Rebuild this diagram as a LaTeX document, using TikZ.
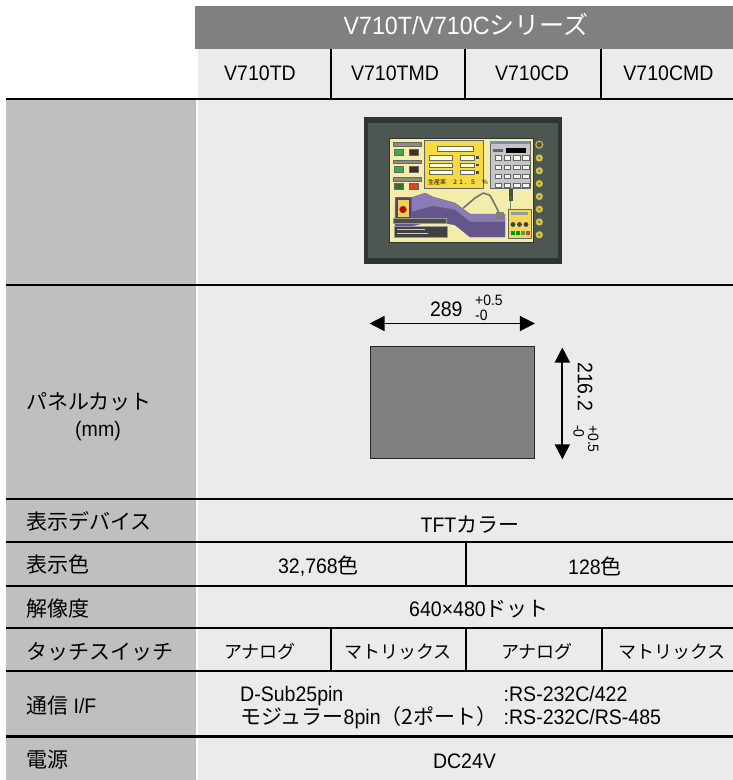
\documentclass[tikz,border=0pt]{standalone}
\usepackage{fontspec}
\setmainfont[FakeStretch=0.93]{Liberation Sans}
\newfontfamily\jpfont{Noto Sans CJK JP}
\usepackage{tikz}
\usetikzlibrary{positioning,arrows.meta,calc}
\colorlet{HEADCOLOR}{black!50}
\colorlet{LABELCOLOR}{black!25}
\colorlet{CELLCOLOR}{black!8}
\colorlet{CUTCOLOR}{black!50}
\definecolor{FRAMECOLOR}{HTML}{303433}
\definecolor{BEZELCOLOR}{HTML}{4D5752}
\definecolor{SCREENCOLOR}{HTML}{F4ECAA}
\definecolor{PANELCOLOR}{HTML}{F6DA3E}
\definecolor{KEYPADCOLOR}{HTML}{C6C6C6}
\definecolor{TITLECOLOR}{HTML}{6F8FCF}
\definecolor{BELTCOLOR}{HTML}{8B7CB8}
\definecolor{BELTSIDECOLOR}{HTML}{64558F}
\definecolor{LAMPCOLOR}{HTML}{D9C33C}
\definecolor{BARCOLOR}{HTML}{8F8C7E}
\definecolor{BTNGREEN}{HTML}{3DAA4B}
\definecolor{BTNDARK}{HTML}{4A2A26}
\definecolor{BTNDEEP}{HTML}{2F6E3A}
\definecolor{BTNRED}{HTML}{E04030}
\definecolor{BOXCOLOR}{HTML}{F0D860}
\tikzset{
  cell-style/.style = {fill=#1, draw=none},
  rule-style/.style = {line width=2.3pt, draw=black},
  split-style/.style = {line width=2pt, draw=black},
  label-style/.style = {
    anchor=west, inner sep=0pt,
    font=\fontsize{21}{25}\selectfont
  },
  value-style/.style = {inner sep=0pt, font=\fontsize{21}{25}\selectfont},
  touch-style/.style = {inner sep=0pt, font=\fontsize{18}{22}\selectfont},
  model-style/.style = {anchor=base, inner sep=0pt, font=\fontsize{21}{25}\selectfont},
  head-style/.style = {
    anchor=base, inner sep=0pt, text=white,
    font=\fontsize{25}{30}\selectfont
  },
  cut-style/.style = {
    draw=black!85, line width=1.3pt, fill=CUTCOLOR,
    minimum width=164pt, minimum height=112.5pt, inner sep=0pt
  },
  dim-style/.style = {
    draw, line width=1.8pt,
    {Triangle[length=15pt,width=15pt]}-{Triangle[length=15pt,width=15pt]}
  },
  size-style/.style = {inner sep=0pt, font=\fontsize{21}{25}\selectfont},
  tol-style/.style = {anchor=base west, inner sep=0pt, font=\fontsize{15}{18}\selectfont},
  tiny-style/.style = {draw=black!60, line width=0.3pt}
}
\newcommand\jp[1]{{\jpfont #1}}
\def\createLabel name:#1 at:#2 text:#3;{
  \node [label-style] (#1) at (26,#2) {#3};
}
\def\createRule at:#1;{
  \draw [rule-style] (6,#1) -- (733,#1);
}

\begin{document}
\begin{tikzpicture}[x=1pt,y=-1pt]
  \useasboundingbox (0,0) rectangle (733,780);
  \fill[white] (0,0) rectangle (733,780);

  % table cells
  \fill[cell-style=HEADCOLOR] (195,6) rectangle (733,48.5);
  \fill[cell-style=CELLCOLOR] (197.5,48.5) rectangle (733,780);
  \fill[cell-style=LABELCOLOR] (6,98) rectangle (196,780);

  \createRule at:98.8;
  \createRule at:284.8;
  \createRule at:499.3;
  \createRule at:542.3;
  \createRule at:585.8;
  \createRule at:627.7;
  \createRule at:671;
  \createRule at:736.5;

  \foreach \x in {330.5,464.5,600.5}
    \draw[split-style] (\x,48.5) -- (\x,98);
  \draw[split-style] (465.5,542.3) -- (465.5,585.8);
  \foreach \x in {331,466,601.5}
    \draw[split-style] (\x,627.7) -- (\x,671);

  % header
  \node[head-style] (series) at (466,34) {V710T/V710C\jp{シリーズ}};
  \node[model-style] (td) at (260,80) {V710TD};
  \node[model-style] (tmd) at (395,80) {V710TMD};
  \node[model-style] (cd) at (532,80) {V710CD};
  \node[model-style] (cmd) at (668.5,80) {V710CMD};

  % HMI photo
  \fill[FRAMECOLOR] (363.5,116.5) rectangle (562,264);
  \fill[BEZELCOLOR] (368,123) rectangle (557.5,257.5);
  \fill[black!80] (389,138) rectangle (534,242.5);
  \fill[SCREENCOLOR] (390,139) rectangle (533,241.5);
  \fill[green!50!black] (411,252.5) rectangle (417,253.5);
  \draw[LAMPCOLOR, line width=1pt] (539.3,144.7) circle (3.5);
  \foreach \k in {0,...,6} {
    \fill[LAMPCOLOR] (539.3,{158+12.8*\k}) circle (3.6);
    \fill[black!55] (539.3,{158+12.8*\k}) circle (1.4);
  }
  \foreach \y/\cl/\cr in {142.3/BTNGREEN/BTNDARK, 159.7/BTNGREEN/BTNDARK, 177/BTNDEEP/BTNRED} {
    \filldraw[tiny-style, fill=BARCOLOR] (393,\y) rectangle (421,\y+3.8);
    \filldraw[tiny-style, fill=\cl] (394,\y+6.5) rectangle (403.5,\y+12.5);
    \filldraw[tiny-style, fill=\cr] (409,\y+6.5) rectangle (418.5,\y+12.5);
  }
  \filldraw[tiny-style, fill=PANELCOLOR] (424.5,140.5) rectangle (483.5,188);
  \filldraw[tiny-style, fill=white!90!yellow] (437.5,146.5) rectangle (473,151.5);
  \foreach \y in {155.5,163,170.3} {
    \filldraw[tiny-style, fill=white!85!yellow] (429,\y) rectangle (452,\y+4.2);
    \filldraw[tiny-style, fill=white!85!yellow] (460,\y) rectangle (474.5,\y+4.2);
    \fill[black!70] (476,\y+0.8) rectangle (478.5,\y+3.4);
  }
  \node[inner sep=0pt, anchor=west, font=\jpfont\fontsize{6}{6}\selectfont] (rate) at (428,182.5) {生産率　２１．５　％};
  \filldraw[tiny-style, fill=KEYPADCOLOR] (490,141) rectangle (530,188);
  \fill[TITLECOLOR] (490,141) rectangle (530,144);
  \fill[black!60] (493,148.5) rectangle (503,152);
  \fill[black] (506,147.5) rectangle (526,153);
  \foreach \i in {0,...,3}
    \foreach \j in {0,...,3}
      \filldraw[tiny-style, fill=white!92!gray] ({495+9.2*\i},{155.5+9.2*\j}) rectangle ({501.3+9.2*\i},{160+9.2*\j});
  % conveyor
  \filldraw[tiny-style, fill=BELTCOLOR] (395,203) -- (425,193) -- (433,197) -- (455,203) -- (470,214)
    -- (505,214) -- (505,222) -- (470,222) -- (455,210) -- (433,206) -- (412,212) -- (395,212) -- cycle;
  \filldraw[tiny-style, fill=BELTSIDECOLOR] (395,212) -- (412,212) -- (433,206) -- (455,210) -- (470,222)
    -- (505,222) -- (505,237) -- (470,237) -- (455,225) -- (433,221) -- (412,226) -- (395,226) -- cycle;
  \filldraw[tiny-style, fill=BELTSIDECOLOR!80!black] (395,197) rectangle (411,218);
  \fill[BOXCOLOR!90!orange] (397.5,200) rectangle (408.5,216.5);
  \filldraw[tiny-style, fill=red!80!black] (403,209.5) circle (3.5);
  \filldraw[draw=black!40, fill=black!70] (393,218.5) rectangle (446,223.5);
  \filldraw[draw=black!40, fill=black!75] (394,226) rectangle (447,237.5);
  \draw[white!80!black, line width=0.6pt] (397,229.5) -- (425,229.5) (397,233.5) -- (428,233.5);
  \draw[black!55, line width=1.6pt, line cap=round, line join=round]
    (463.3,208) -- (475,198) -- (483.3,193) -- (490,195.3) -- (495,204.7) -- (500,214.7);
  \fill[black!50] (496,212) rectangle (504,219);
  \fill[black!70] (509,189) rectangle (512.5,201);
  \fill[green!70!black] (510.7,197.5) circle (1.2);
  \draw[black!50, line width=0.8pt] (510.7,201) -- (510.7,209.5);
  \filldraw[tiny-style, fill=BOXCOLOR] (508,209.5) rectangle (531,238);
  \fill[black!40] (511,211.5) rectangle (528,214.5);
  \foreach \x in {513,519.5,526}
    \fill[black!75] (\x,224.5) circle (2.4);
  \foreach \x/\c in {511/green!60!black, 516/green!60!black, 521/BTNGREEN, 526/BTNRED}
    \fill[\c] (\x,231) rectangle (\x+3.5,234.5);

  % panel cut drawing
  \node[cut-style] (cut) at (452.2,402.4) {};
  \coordinate (w-from) at ([yshift=22pt]cut.north west);
  \coordinate (w-to) at ([yshift=22pt]cut.north east);
  \draw[dim-style] (w-from) -- (w-to);
  \coordinate (h-from) at ([xshift=27.5pt,yshift=-2pt]cut.north east);
  \coordinate (h-to) at ([xshift=27.5pt]cut.south east);
  \draw[dim-style] (h-from) -- (h-to);
  \node[size-style, anchor=base] (w-label) at (446.3,316.7) {289};
  \node[tol-style] (w-plus) at (475,305) {+0.5};
  \node[tol-style] (w-minus) at (475,320) {-0};
  \node[size-style, rotate=-90] (h-label) at (585,386.7) {216.2};
  \node[tol-style, rotate=-90] (h-plus) at (588,425) {+0.5};
  \node[tol-style, rotate=-90] (h-minus) at (573.5,425) {-0};

  % row labels
  \createLabel name:cut-label at:401.7 text:\jp{パネルカット};
  \node[value-style] (mm-label) at (98,431) {(mm)};
  \createLabel name:device-label at:521 text:\jp{表示デバイス};
  \createLabel name:color-label at:564.5 text:\jp{表示色};
  \createLabel name:res-label at:609 text:\jp{解像度};
  \createLabel name:touch-label at:651.5 text:\jp{タッチスイッチ};
  \createLabel name:comm-label at:705.5 text:\jp{通信} I/F;
  \createLabel name:power-label at:760 text:\jp{電源};

  % row values
  \node[value-style] (device) at (470,525) {TFT\jp{カラー}};
  \node[value-style] (color-t) at (318.5,566) {32,768\jp{色}};
  \node[value-style] (color-c) at (595,566) {128\jp{色}};
  \node[value-style] (res) at (479,609) {640×480\jp{ドット}};
  \node[touch-style] (touch-td) at (260,651.5) {\jp{アナログ}};
  \node[touch-style] (touch-tmd) at (398,651.5) {\jp{マトリックス}};
  \node[touch-style] (touch-cd) at (537,651.5) {\jp{アナログ}};
  \node[touch-style] (touch-cmd) at (672,651.5) {\jp{マトリックス}};
  \node[value-style, anchor=base west] (comm-a) at (240,701) {D-Sub25pin};
  \node[value-style, anchor=base west] (comm-b) at (240,724.3) {\jp{モジュラー}8pin\jp{（2ポート）}};
  \node[value-style, anchor=base west] (comm-c) at (503.5,701) {:RS-232C/422};
  \node[value-style, anchor=base west] (comm-d) at (503.5,724.3) {:RS-232C/RS-485};
  \node[value-style] (power) at (464.5,761) {DC24V};
\end{tikzpicture}
\end{document}
